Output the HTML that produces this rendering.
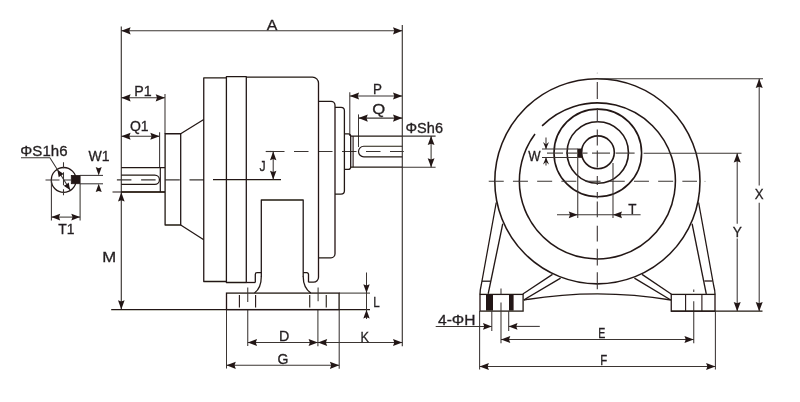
<!DOCTYPE html>
<html><head><meta charset="utf-8"><title>Dimension drawing</title>
<style>
html,body{margin:0;padding:0;background:#fff;}
body{width:800px;height:402px;overflow:hidden;}
svg{display:block;font-family:"Liberation Sans",sans-serif;}
</style></head><body>
<svg width="800" height="402" viewBox="0 0 800 402">
<defs><filter id="soft" x="0" y="0" width="800" height="402" filterUnits="userSpaceOnUse"><feGaussianBlur stdDeviation="0.35"/></filter></defs>
<rect width="800" height="402" fill="#ffffff"/>
<g filter="url(#soft)">
<line x1="121.3" y1="26.5" x2="121.3" y2="309.8" stroke="#3a3533" stroke-width="1.15" stroke-linecap="butt"/>
<line x1="402.3" y1="25" x2="402.3" y2="346.3" stroke="#3a3533" stroke-width="1.15" stroke-linecap="butt"/>
<line x1="121.3" y1="30.8" x2="402.3" y2="30.8" stroke="#3a3533" stroke-width="1.05" stroke-linecap="butt"/>
<polygon points="121.30,30.80 130.60,27.20 129.30,30.80 130.60,34.40" fill="#231815"/>
<polygon points="402.30,30.80 393.00,34.40 394.30,30.80 393.00,27.20" fill="#231815"/>
<text transform="translate(266.72,30.4) scale(1.026,1)" font-size="15.5" fill="#231f20" stroke="#231f20" stroke-width="0.3">A</text>
<line x1="121.3" y1="97.8" x2="165" y2="97.8" stroke="#3a3533" stroke-width="1.05" stroke-linecap="butt"/>
<polygon points="121.30,97.80 130.60,94.20 129.30,97.80 130.60,101.40" fill="#231815"/>
<polygon points="165.00,97.80 155.70,101.40 157.00,97.80 155.70,94.20" fill="#231815"/>
<line x1="165" y1="94" x2="165" y2="134" stroke="#3a3533" stroke-width="1.05" stroke-linecap="butt"/>
<text transform="translate(134.36,95.5) scale(0.981,1)" font-size="14.5" fill="#231f20" stroke="#231f20" stroke-width="0.3">P1</text>
<line x1="121.3" y1="136.25" x2="159.6" y2="136.25" stroke="#3a3533" stroke-width="1.05" stroke-linecap="butt"/>
<polygon points="121.30,136.25 130.60,132.65 129.30,136.25 130.60,139.85" fill="#231815"/>
<polygon points="159.60,136.25 150.30,139.85 151.60,136.25 150.30,132.65" fill="#231815"/>
<line x1="159.6" y1="132.2" x2="159.6" y2="168" stroke="#3a3533" stroke-width="1.05" stroke-linecap="butt"/>
<text transform="translate(129.97,130.8) scale(0.968,1)" font-size="14.5" fill="#231f20" stroke="#231f20" stroke-width="0.3">Q1</text>
<line x1="349.8" y1="96" x2="402.3" y2="96" stroke="#3a3533" stroke-width="1.05" stroke-linecap="butt"/>
<polygon points="349.80,96.00 359.10,92.40 357.80,96.00 359.10,99.60" fill="#231815"/>
<polygon points="402.30,96.00 393.00,99.60 394.30,96.00 393.00,92.40" fill="#231815"/>
<line x1="349.8" y1="92.2" x2="349.8" y2="136" stroke="#3a3533" stroke-width="1.05" stroke-linecap="butt"/>
<text transform="translate(372.92,94.4) scale(0.928,1)" font-size="14.5" fill="#231f20" stroke="#231f20" stroke-width="0.3">P</text>
<line x1="358.5" y1="118.1" x2="402.3" y2="118.1" stroke="#3a3533" stroke-width="1.05" stroke-linecap="butt"/>
<polygon points="358.50,118.10 367.80,114.50 366.50,118.10 367.80,121.70" fill="#231815"/>
<polygon points="402.30,118.10 393.00,121.70 394.30,118.10 393.00,114.50" fill="#231815"/>
<line x1="358.5" y1="114.4" x2="358.5" y2="147" stroke="#3a3533" stroke-width="1.05" stroke-linecap="butt"/>
<text transform="translate(372.25,114.4) scale(1.148,1)" font-size="14.5" fill="#231f20" stroke="#231f20" stroke-width="0.3">Q</text>
<line x1="402.3" y1="136.1" x2="435.6" y2="136.1" stroke="#3a3533" stroke-width="1.05" stroke-linecap="butt"/>
<line x1="402.3" y1="167.2" x2="435.6" y2="167.2" stroke="#3a3533" stroke-width="1.05" stroke-linecap="butt"/>
<line x1="431.1" y1="136.1" x2="431.1" y2="167.2" stroke="#3a3533" stroke-width="1.05" stroke-linecap="butt"/>
<polygon points="431.10,136.10 434.50,145.10 431.10,143.84 427.70,145.10" fill="#231815"/>
<polygon points="431.10,167.20 427.70,158.20 431.10,159.46 434.50,158.20" fill="#231815"/>
<text transform="translate(405.50,133.2) scale(1.039,1)" font-size="14" fill="#231f20" stroke="#231f20" stroke-width="0.3">ΦSh6</text>
<polygon points="121.30,192.30 124.60,201.60 121.30,200.30 118.00,201.60" fill="#231815"/>
<polygon points="121.30,309.60 118.00,300.30 121.30,301.60 124.60,300.30" fill="#231815"/>
<line x1="112.5" y1="192" x2="165" y2="192" stroke="#231815" stroke-width="1.2" stroke-linecap="butt"/>
<text transform="translate(102.26,262.4) scale(1.153,1)" font-size="14.5" fill="#231f20" stroke="#231f20" stroke-width="0.3">M</text>
<line x1="111.2" y1="309.7" x2="370" y2="309.7" stroke="#231815" stroke-width="1.3" stroke-linecap="butt"/>
<line x1="339" y1="293.1" x2="370" y2="293.1" stroke="#3a3533" stroke-width="1.05" stroke-linecap="butt"/>
<line x1="366.5" y1="272.5" x2="366.5" y2="319" stroke="#3a3533" stroke-width="1.05" stroke-linecap="butt"/>
<polygon points="366.50,293.10 363.30,284.30 366.50,285.53 369.70,284.30" fill="#231815"/>
<polygon points="366.50,309.70 369.70,318.50 366.50,317.27 363.30,318.50" fill="#231815"/>
<text transform="translate(373.27,306.9) scale(0.806,1)" font-size="14.5" fill="#231f20" stroke="#231f20" stroke-width="0.3">L</text>
<line x1="247.75" y1="309" x2="247.75" y2="346" stroke="#3a3533" stroke-width="1.05" stroke-linecap="butt"/>
<line x1="317.9" y1="309" x2="317.9" y2="346.3" stroke="#3a3533" stroke-width="1.05" stroke-linecap="butt"/>
<line x1="247.75" y1="342.5" x2="317.9" y2="342.5" stroke="#3a3533" stroke-width="1.05" stroke-linecap="butt"/>
<polygon points="247.75,342.50 257.05,338.90 255.75,342.50 257.05,346.10" fill="#231815"/>
<polygon points="317.90,342.50 308.60,346.10 309.90,342.50 308.60,338.90" fill="#231815"/>
<line x1="317.9" y1="342.5" x2="402.3" y2="342.5" stroke="#3a3533" stroke-width="1.05" stroke-linecap="butt"/>
<polygon points="317.90,342.50 327.20,338.90 325.90,342.50 327.20,346.10" fill="#231815"/>
<polygon points="402.30,342.50 393.00,346.10 394.30,342.50 393.00,338.90" fill="#231815"/>
<text transform="translate(279.06,341.3) scale(0.985,1)" font-size="14.5" fill="#231f20" stroke="#231f20" stroke-width="0.3">D</text>
<text transform="translate(360.38,341.9) scale(0.876,1)" font-size="14.5" fill="#231f20" stroke="#231f20" stroke-width="0.3">K</text>
<line x1="226.5" y1="309" x2="226.5" y2="368.5" stroke="#3a3533" stroke-width="1.05" stroke-linecap="butt"/>
<line x1="339.2" y1="309" x2="339.2" y2="368.8" stroke="#3a3533" stroke-width="1.05" stroke-linecap="butt"/>
<line x1="226.5" y1="365.3" x2="339.2" y2="365.3" stroke="#3a3533" stroke-width="1.05" stroke-linecap="butt"/>
<polygon points="226.50,365.30 235.80,361.70 234.50,365.30 235.80,368.90" fill="#231815"/>
<polygon points="339.20,365.30 329.90,368.90 331.20,365.30 329.90,361.70" fill="#231815"/>
<text transform="translate(277.50,363.6) scale(0.969,1)" font-size="14.5" fill="#231f20" stroke="#231f20" stroke-width="0.3">G</text>
<line x1="213" y1="179.6" x2="281" y2="179.6" stroke="#231815" stroke-width="1.2" stroke-linecap="butt"/>
<line x1="265.7" y1="151.5" x2="271" y2="151.5" stroke="#3a3533" stroke-width="1.1" stroke-linecap="butt"/>
<line x1="270" y1="151.5" x2="403.8" y2="151.5" stroke="#3a3533" stroke-width="1.1" stroke-dasharray="14.5 9.5" stroke-linecap="butt"/>
<line x1="273.2" y1="151.5" x2="273.2" y2="179.6" stroke="#3a3533" stroke-width="1.05" stroke-linecap="butt"/>
<polygon points="273.20,151.50 276.40,160.30 273.20,159.07 270.00,160.30" fill="#231815"/>
<polygon points="273.20,179.60 270.00,170.80 273.20,172.03 276.40,170.80" fill="#231815"/>
<text transform="translate(259.62,170.8) scale(0.841,1)" font-size="14.5" fill="#231f20" stroke="#231f20" stroke-width="0.3">J</text>
<line x1="116.9" y1="179.9" x2="213" y2="179.9" stroke="#3a3533" stroke-width="1.1" stroke-dasharray="14.5 9.7" stroke-linecap="butt"/>
<path d="M165,167.6 H121.3 M121.3,192 H165" stroke="#231815" stroke-width="1.3" fill="none" stroke-linejoin="round" />
<line x1="160.3" y1="167.6" x2="160.3" y2="192" stroke="#231815" stroke-width="1.2" stroke-linecap="butt"/>
<path d="M121.3,175.1 H154.8 A4.65,4.65 0 0 1 154.8,184.4 H121.3" stroke="#231815" stroke-width="1.2" fill="none" stroke-linejoin="round" />
<path d="M180.7,133.75 H165.1 V225 H180.7 Z" stroke="#231815" stroke-width="1.3" fill="none" stroke-linejoin="round" />
<path d="M180.7,133.75 L203.75,119.5 M180.7,225 L203.75,239.7" stroke="#231815" stroke-width="1.3" fill="none" stroke-linejoin="round" />
<path d="M226.4,77.9 H203.75 V281.5 H226.4" stroke="#231815" stroke-width="1.3" fill="none" stroke-linejoin="round" />
<path d="M226.4,282.5 V76.7 H246.3 V282.5 Z" stroke="#231815" stroke-width="1.3" fill="none" stroke-linejoin="round" />
<path d="M246.3,77.1 H312.5 A6,6 0 0 1 318.5,83.1 V277.2 A5,5 0 0 1 313.5,282.2 H308.5" stroke="#231815" stroke-width="1.3" fill="none" stroke-linejoin="round" />
<path d="M246.3,282.5 H255.3" stroke="#231815" stroke-width="1.3" fill="none" stroke-linejoin="round" />
<path d="M318.5,101.3 H331 A4,4 0 0 1 335,105.3 V253.8 A4,4 0 0 1 331,257.8 H318.5" stroke="#231815" stroke-width="1.3" fill="none" stroke-linejoin="round" />
<path d="M335,107.4 H341 A3.4,3.4 0 0 1 344.4,110.8 V190.8 A3.4,3.4 0 0 1 341,194.2 H335" stroke="#231815" stroke-width="1.3" fill="none" stroke-linejoin="round" />
<path d="M344.4,133.8 H348.4 A2.3,2.3 0 0 1 350.7,136.1 V167.1 A2.3,2.3 0 0 1 348.4,169.4 H344.4" stroke="#231815" stroke-width="1.3" fill="none" stroke-linejoin="round" />
<line x1="353.1" y1="136.1" x2="353.1" y2="167.2" stroke="#231815" stroke-width="1.1" stroke-linecap="butt"/>
<path d="M350.7,136.1 H402.3 M350.7,167.2 H402.3" stroke="#231815" stroke-width="1.3" fill="none" stroke-linejoin="round" />
<path d="M402.3,146.25 H363.8 A5.3,5.3 0 0 0 363.8,156.85 H402.3" stroke="#231815" stroke-width="1.2" fill="none" stroke-linejoin="round" />
<path d="M261.3,277 V200 H303.2 V277" stroke="#231815" stroke-width="1.3" fill="none" stroke-linejoin="round" />
<path d="M261.3,272.7 H257 A1.7,1.7 0 0 0 255.3,274.4 V282.5" stroke="#231815" stroke-width="1.3" fill="none" stroke-linejoin="round" />
<path d="M303.2,272.7 H306.8 A1.7,1.7 0 0 1 308.5,274.4 V282.2" stroke="#231815" stroke-width="1.3" fill="none" stroke-linejoin="round" />
<path d="M261.3,276.5 C261.3,285 258.5,290 254.5,293.1" stroke="#231815" stroke-width="1.3" fill="none" stroke-linejoin="round" />
<path d="M303.2,276.5 C303.2,285 306.5,290 310.8,293.1" stroke="#231815" stroke-width="1.3" fill="none" stroke-linejoin="round" />
<rect x="226.5" y="293.1" width="112.6" height="16.5" fill="none" stroke="#231815" stroke-width="1.3"/>
<line x1="239.4" y1="295" x2="239.4" y2="307.5" stroke="#231815" stroke-width="1.1" stroke-linecap="butt"/>
<line x1="255.6" y1="295" x2="255.6" y2="307.5" stroke="#231815" stroke-width="1.1" stroke-linecap="butt"/>
<line x1="309.75" y1="295" x2="309.75" y2="307.5" stroke="#231815" stroke-width="1.1" stroke-linecap="butt"/>
<line x1="326.25" y1="295" x2="326.25" y2="307.5" stroke="#231815" stroke-width="1.1" stroke-linecap="butt"/>
<line x1="247.75" y1="287.5" x2="247.75" y2="302" stroke="#3a3533" stroke-width="1.05" stroke-linecap="butt"/>
<line x1="318.1" y1="287.5" x2="318.1" y2="301.3" stroke="#3a3533" stroke-width="1.05" stroke-linecap="butt"/>
<circle cx="63.7" cy="179.9" r="12.4" stroke="#231815" stroke-width="1.3" fill="none" />
<rect x="71.3" y="175.4" width="8.8" height="8.3" fill="#231815" stroke="#231815" stroke-width="0.8"/>
<line x1="45.5" y1="179.9" x2="71" y2="179.9" stroke="#3a3533" stroke-width="1.05" stroke-dasharray="14 4 8 4" stroke-linecap="butt"/>
<line x1="63.5" y1="162.2" x2="63.5" y2="198" stroke="#3a3533" stroke-width="1.05" stroke-dasharray="6 4 13 4 6" stroke-linecap="butt"/>
<line x1="51.4" y1="180" x2="51.4" y2="220.5" stroke="#3a3533" stroke-width="1.05" stroke-linecap="butt"/>
<line x1="80.1" y1="184" x2="80.1" y2="220.5" stroke="#3a3533" stroke-width="1.05" stroke-linecap="butt"/>
<line x1="51.4" y1="217.1" x2="80.1" y2="217.1" stroke="#3a3533" stroke-width="1.05" stroke-linecap="butt"/>
<polygon points="51.40,217.10 60.20,213.80 58.97,217.10 60.20,220.40" fill="#231815"/>
<polygon points="80.10,217.10 71.30,220.40 72.53,217.10 71.30,213.80" fill="#231815"/>
<text transform="translate(58.15,233.8) scale(0.962,1)" font-size="14.5" fill="#231f20" stroke="#231f20" stroke-width="0.3">T1</text>
<line x1="80" y1="175.4" x2="103" y2="175.4" stroke="#3a3533" stroke-width="1.05" stroke-linecap="butt"/>
<line x1="80" y1="183.8" x2="103" y2="183.8" stroke="#3a3533" stroke-width="1.05" stroke-linecap="butt"/>
<polygon points="98.70,175.40 95.70,167.10 98.70,168.26 101.70,167.10" fill="#231815"/>
<polygon points="98.70,183.80 101.70,192.10 98.70,190.94 95.70,192.10" fill="#231815"/>
<text transform="translate(88.53,160.9) scale(0.969,1)" font-size="14.5" fill="#231f20" stroke="#231f20" stroke-width="0.3">W1</text>
<text transform="translate(20.37,156) scale(1.038,1)" font-size="14.5" fill="#231f20" stroke="#231f20" stroke-width="0.3">ΦS1h6</text>
<path d="M21,157.8 H49.9 L70.4,190.2" stroke="#3a3533" stroke-width="1.05" fill="none" stroke-linejoin="round" />
<polygon points="57.40,169.80 63.73,174.04 61.02,175.38 58.70,177.30" fill="#231815"/>
<polygon points="70.00,190.00 63.67,185.76 66.38,184.42 68.70,182.50" fill="#231815"/>
<circle cx="597.4" cy="181.25" r="102.6" stroke="#231815" stroke-width="1.55" fill="none" />
<path d="M542.09,125.90 A78,78 0 1 1 535.01,134.08" stroke="#231815" stroke-width="1.55" fill="none" stroke-linejoin="round" />
<circle cx="597.8" cy="152.9" r="43.8" stroke="#231815" stroke-width="1.6" fill="none" />
<circle cx="597.75" cy="152.5" r="30.7" stroke="#231815" stroke-width="1.6" fill="none" />
<circle cx="597.9" cy="152.3" r="16.4" stroke="#231815" stroke-width="1.6" fill="none" />
<rect x="577.6" y="148.9" width="4.4" height="8.7" fill="#231815" stroke="#231815" stroke-width="0.6"/>
<line x1="597.3" y1="81.9" x2="597.3" y2="99" stroke="#3a3533" stroke-width="1.1" stroke-linecap="butt"/>
<line x1="597.3" y1="108" x2="597.3" y2="122" stroke="#3a3533" stroke-width="1.1" stroke-linecap="butt"/>
<line x1="597.3" y1="129.5" x2="597.3" y2="145.6" stroke="#3a3533" stroke-width="1.1" stroke-linecap="butt"/>
<line x1="597.3" y1="150.6" x2="597.3" y2="167.5" stroke="#3a3533" stroke-width="1.1" stroke-linecap="butt"/>
<line x1="597.3" y1="176" x2="597.3" y2="185" stroke="#3a3533" stroke-width="1.1" stroke-linecap="butt"/>
<line x1="597.3" y1="192" x2="597.3" y2="198.6" stroke="#3a3533" stroke-width="1.1" stroke-linecap="butt"/>
<line x1="597.3" y1="201.5" x2="597.3" y2="217.2" stroke="#3a3533" stroke-width="1.1" stroke-linecap="butt"/>
<line x1="597.3" y1="225.8" x2="597.3" y2="241.6" stroke="#3a3533" stroke-width="1.1" stroke-linecap="butt"/>
<line x1="597.3" y1="248.8" x2="597.3" y2="265.4" stroke="#3a3533" stroke-width="1.1" stroke-linecap="butt"/>
<line x1="597.3" y1="272.3" x2="597.3" y2="289.2" stroke="#3a3533" stroke-width="1.1" stroke-linecap="butt"/>
<line x1="547" y1="153.1" x2="563" y2="153.1" stroke="#3a3533" stroke-width="1.1" stroke-linecap="butt"/>
<line x1="566" y1="153.1" x2="577" y2="153.1" stroke="#3a3533" stroke-width="1.1" stroke-linecap="butt"/>
<line x1="582.5" y1="153.1" x2="587.5" y2="153.1" stroke="#3a3533" stroke-width="1.1" stroke-linecap="butt"/>
<line x1="592" y1="153.1" x2="610" y2="153.1" stroke="#3a3533" stroke-width="1.1" stroke-linecap="butt"/>
<line x1="615.6" y1="153.1" x2="634.6" y2="153.1" stroke="#3a3533" stroke-width="1.1" stroke-linecap="butt"/>
<line x1="488.75" y1="181.25" x2="697" y2="181.25" stroke="#3a3533" stroke-width="1.1" stroke-dasharray="15 9.2" stroke-linecap="butt"/>
<line x1="542" y1="149" x2="577.5" y2="149" stroke="#3a3533" stroke-width="1.05" stroke-linecap="butt"/>
<line x1="542" y1="157.5" x2="577.5" y2="157.5" stroke="#3a3533" stroke-width="1.05" stroke-linecap="butt"/>
<line x1="546" y1="137.5" x2="546" y2="149" stroke="#3a3533" stroke-width="1.05" stroke-linecap="butt"/>
<polygon points="546.00,149.00 543.00,142.00 546.00,144.45 549.00,142.00" fill="#231815"/>
<line x1="546" y1="157.5" x2="546" y2="165.6" stroke="#3a3533" stroke-width="1.05" stroke-linecap="butt"/>
<polygon points="546.00,157.50 549.00,164.50 546.00,162.05 543.00,164.50" fill="#231815"/>
<text transform="translate(528.13,161.2) scale(0.900,1)" font-size="14.5" fill="#231f20" stroke="#231f20" stroke-width="0.3">W</text>
<line x1="577.75" y1="157.7" x2="577.75" y2="218" stroke="#3a3533" stroke-width="1.05" stroke-linecap="butt"/>
<line x1="613" y1="163" x2="613" y2="218" stroke="#3a3533" stroke-width="1.05" stroke-linecap="butt"/>
<line x1="557" y1="214.8" x2="640.6" y2="214.8" stroke="#3a3533" stroke-width="1.05" stroke-linecap="butt"/>
<polygon points="577.75,214.80 568.75,218.20 570.01,214.80 568.75,211.40" fill="#231815"/>
<polygon points="613.00,214.80 622.00,211.40 620.74,214.80 622.00,218.20" fill="#231815"/>
<text transform="translate(628.26,213.8) scale(0.928,1)" font-size="14.5" fill="#231f20" stroke="#231f20" stroke-width="0.3">T</text>
<line x1="597.4" y1="78.75" x2="763" y2="78.75" stroke="#3a3533" stroke-width="1.05" stroke-linecap="butt"/>
<line x1="643.6" y1="153.2" x2="741.5" y2="153.2" stroke="#3a3533" stroke-width="1.05" stroke-linecap="butt"/>
<line x1="759.2" y1="78.75" x2="759.2" y2="185.5" stroke="#3a3533" stroke-width="1.05" stroke-linecap="butt"/>
<line x1="759.2" y1="202.8" x2="759.2" y2="311" stroke="#3a3533" stroke-width="1.05" stroke-linecap="butt"/>
<polygon points="759.20,78.75 762.70,88.05 759.20,86.75 755.70,88.05" fill="#231815"/>
<polygon points="759.20,311.20 755.70,301.90 759.20,303.20 762.70,301.90" fill="#231815"/>
<line x1="737.2" y1="153.3" x2="737.2" y2="223.7" stroke="#3a3533" stroke-width="1.05" stroke-linecap="butt"/>
<line x1="737.2" y1="238.6" x2="737.2" y2="311" stroke="#3a3533" stroke-width="1.05" stroke-linecap="butt"/>
<polygon points="737.20,153.30 740.70,162.60 737.20,161.30 733.70,162.60" fill="#231815"/>
<polygon points="737.20,311.20 733.70,301.90 737.20,303.20 740.70,301.90" fill="#231815"/>
<text transform="translate(754.87,198.7) scale(0.912,1)" font-size="14.5" fill="#231f20" stroke="#231f20" stroke-width="0.3">X</text>
<text transform="translate(732.66,236.6) scale(0.945,1)" font-size="14.5" fill="#231f20" stroke="#231f20" stroke-width="0.3">Y</text>
<rect x="480" y="294.4" width="43.1" height="16.7" fill="none" stroke="#231815" stroke-width="1.3"/>
<rect x="671.25" y="294.4" width="43.75" height="16.8" fill="none" stroke="#231815" stroke-width="1.3"/>
<rect x="486" y="295" width="7" height="15.6" fill="#231815"/>
<rect x="509" y="295" width="4.6" height="15.6" fill="#231815"/>
<line x1="501" y1="288.5" x2="501" y2="294.4" stroke="#3a3533" stroke-width="1.05" stroke-linecap="butt"/>
<line x1="501" y1="302.5" x2="501" y2="343.3" stroke="#3a3533" stroke-width="1.05" stroke-linecap="butt"/>
<line x1="685.6" y1="294.4" x2="685.6" y2="311" stroke="#231815" stroke-width="1.1" stroke-linecap="butt"/>
<line x1="701.9" y1="294.4" x2="701.9" y2="311" stroke="#231815" stroke-width="1.1" stroke-linecap="butt"/>
<line x1="693.75" y1="289.4" x2="693.75" y2="292" stroke="#3a3533" stroke-width="1.05" stroke-linecap="butt"/>
<line x1="693.75" y1="301.25" x2="693.75" y2="343.3" stroke="#3a3533" stroke-width="1.05" stroke-linecap="butt"/>
<line x1="671" y1="311.2" x2="762.5" y2="311.2" stroke="#231815" stroke-width="1.25" stroke-linecap="butt"/>
<path d="M496.25,202.5 L481.25,285 Q480,290 480,294.4" stroke="#231815" stroke-width="1.3" fill="none" stroke-linejoin="round" />
<path d="M502.75,223.75 L488.2,293.75" stroke="#231815" stroke-width="1.3" fill="none" stroke-linejoin="round" />
<line x1="481.9" y1="281.2" x2="490.6" y2="281.2" stroke="#231815" stroke-width="1.3" stroke-linecap="butt"/>
<path d="M698.6,202.5 L713.75,286 Q715,290.5 715,294.4" stroke="#231815" stroke-width="1.3" fill="none" stroke-linejoin="round" />
<path d="M692.1,223.75 L706.3,294" stroke="#231815" stroke-width="1.3" fill="none" stroke-linejoin="round" />
<line x1="704.4" y1="281" x2="712.5" y2="281" stroke="#231815" stroke-width="1.3" stroke-linecap="butt"/>
<path d="M522.8,294 L552.5,274.4 M523.75,300 L560.6,278.1" stroke="#231815" stroke-width="1.3" fill="none" stroke-linejoin="round" />
<path d="M671.5,294.2 L642,274.4 M670.8,300 L634.4,278.1" stroke="#231815" stroke-width="1.3" fill="none" stroke-linejoin="round" />
<path d="M523.75,300 Q597.4,287.8 671,300" stroke="#231815" stroke-width="1.3" fill="none" stroke-linejoin="round" />
<circle cx="705" cy="181.3" r="0.6" fill="#999"/>
<circle cx="597.3" cy="73" r="0.6" fill="#aaa"/>
<line x1="435.7" y1="326.4" x2="491.8" y2="326.4" stroke="#3a3533" stroke-width="1.05" stroke-linecap="butt"/>
<polygon points="491.80,326.40 483.00,329.70 484.23,326.40 483.00,323.10" fill="#231815"/>
<line x1="508.7" y1="326.4" x2="539.8" y2="326.4" stroke="#3a3533" stroke-width="1.05" stroke-linecap="butt"/>
<polygon points="508.70,326.40 517.50,323.10 516.27,326.40 517.50,329.70" fill="#231815"/>
<line x1="491.8" y1="311" x2="491.8" y2="331" stroke="#3a3533" stroke-width="1.05" stroke-linecap="butt"/>
<line x1="508.7" y1="311" x2="508.7" y2="331" stroke="#3a3533" stroke-width="1.05" stroke-linecap="butt"/>
<text transform="translate(438.01,324.6) scale(1.073,1)" font-size="14.5" fill="#231f20" stroke="#231f20" stroke-width="0.3">4-ΦH</text>
<line x1="501" y1="339.5" x2="693.75" y2="339.5" stroke="#3a3533" stroke-width="1.05" stroke-linecap="butt"/>
<polygon points="501.00,339.50 510.30,335.90 509.00,339.50 510.30,343.10" fill="#231815"/>
<polygon points="693.75,339.50 684.45,343.10 685.75,339.50 684.45,335.90" fill="#231815"/>
<text transform="translate(598.15,338) scale(0.734,1)" font-size="14.5" fill="#231f20" stroke="#231f20" stroke-width="0.3">E</text>
<line x1="479.6" y1="311" x2="479.6" y2="369.5" stroke="#3a3533" stroke-width="1.05" stroke-linecap="butt"/>
<line x1="715.4" y1="311" x2="715.4" y2="369.5" stroke="#3a3533" stroke-width="1.05" stroke-linecap="butt"/>
<line x1="479.6" y1="366.5" x2="715.4" y2="366.5" stroke="#3a3533" stroke-width="1.05" stroke-linecap="butt"/>
<polygon points="479.60,366.50 488.90,362.90 487.60,366.50 488.90,370.10" fill="#231815"/>
<polygon points="715.40,366.50 706.10,370.10 707.40,366.50 706.10,362.90" fill="#231815"/>
<text transform="translate(600.29,365.4) scale(0.788,1)" font-size="14.5" fill="#231f20" stroke="#231f20" stroke-width="0.3">F</text>
</g>
</svg>
</body></html>
